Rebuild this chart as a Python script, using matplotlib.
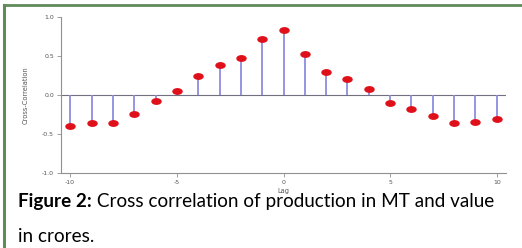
import numpy as np
import matplotlib
matplotlib.use('Agg')
import matplotlib.pyplot as plt
from matplotlib.path import Path
from matplotlib.lines import Line2D

# cross correlation values
lags = np.arange(-10, 11)
ccf = [-0.39, -0.36, -0.35, -0.24, -0.07, 0.055, 0.25, 0.385, 0.48, 0.72, 0.84,
       0.53, 0.29, 0.205, 0.08, -0.10, -0.18, -0.265, -0.35, -0.34, -0.31]
x_ticks = [-10, -5, 0, 5, 10]
y_ticks = [-1.0, -0.5, 0.0, 0.5, 1.0]
caption_bold = 'Figure 2:'
caption_rest = ' Cross correlation of production in MT and value'
caption_line2 = 'in crores.'

W, H = 522, 248
fig = plt.figure(figsize=(W / 100, H / 100), dpi=100)
fig.patch.set_facecolor('white')

# green frame (top and left edges visible)
green = '#5f8a5a'
fig.add_artist(Line2D([4 / W, 1], [1 - 5 / H, 1 - 5 / H], color=green, lw=2, transform=fig.transFigure))
fig.add_artist(Line2D([4 / W, 4 / W], [0, 1 - 5 / H], color=green, lw=2.2, transform=fig.transFigure))

ax = fig.add_axes([61 / W, 1 - 173.3 / H, (506 - 61) / W, (173.3 - 17) / H])

# ellipse marker
t = np.linspace(0, 2 * np.pi, 40)
ell = Path(np.column_stack([np.cos(t), 0.6 * np.sin(t)]), closed=True)

ax.axhline(0, color='#707080', lw=0.8, zorder=1)
ax.vlines(lags, 0, ccf, color='#8c8ce0', lw=1.3, zorder=2)
ax.plot(lags, ccf, ls='none', marker=ell, ms=6.5, color='#e0101a', mec='#e0101a', zorder=3)

ax.set_xlim(-10.43, 10.43)
ax.set_ylim(-1, 1)
ax.set_xticks(x_ticks)
ax.set_yticks(y_ticks)
ax.set_xticklabels([str(v) for v in x_ticks])
ax.set_yticklabels(['%.1f' % v for v in y_ticks])
for s in ['top', 'right']:
    ax.spines[s].set_visible(False)
for s in ['left', 'bottom']:
    ax.spines[s].set_color('#909090')
    ax.spines[s].set_linewidth(0.8)
ax.tick_params(colors='#909090', labelcolor='#555555', labelsize=4.5, length=3, width=0.6, pad=2)
narrow = ['Liberation Sans Narrow', 'DejaVu Sans']
ax.set_xlabel('Lag', fontsize=4.8, color='#555555', labelpad=2, family=narrow)
ax.set_ylabel('Cross-Correlation', fontsize=4.8, color='#555555', labelpad=10, family=narrow)

# caption
fam = ['Lato', 'DejaVu Sans']
fs = 13.6
t1 = fig.text(18 / W, 1 - 207 / H, caption_bold, fontsize=fs, fontweight='bold', family=fam, color='black')
fig.canvas.draw()
bb = t1.get_window_extent()
fig.text(bb.x1 / W, 1 - 207 / H, caption_rest, fontsize=fs, family=fam, color='black')
fig.text(18 / W, 1 - 241.5 / H, caption_line2, fontsize=fs, family=fam, color='black')

fig.savefig('out.png', dpi=100)
